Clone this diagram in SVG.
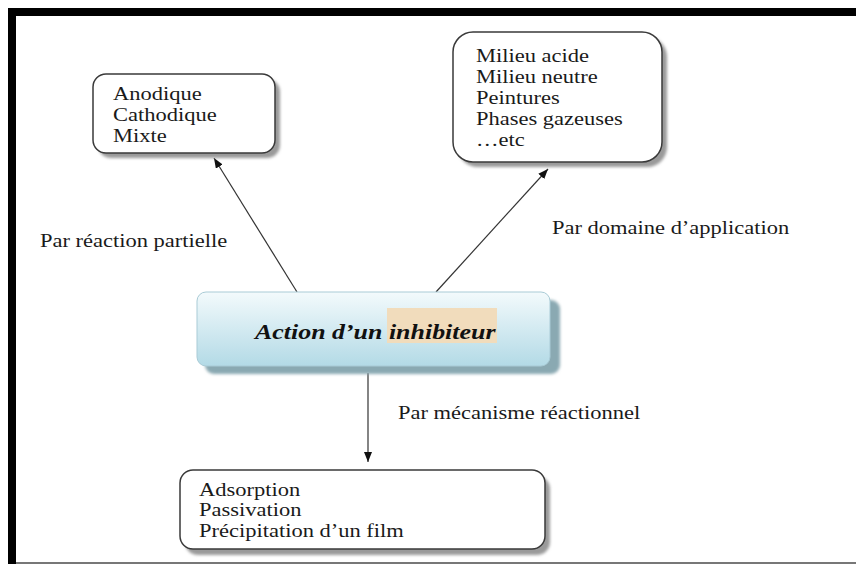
<svg xmlns="http://www.w3.org/2000/svg" width="856" height="564" viewBox="0 0 856 564">
<style>
.t{font-family:"Liberation Serif","Times New Roman",serif;font-size:18px;fill:#1a1a1a}
.title{font-family:"Liberation Serif","Times New Roman",serif;font-size:21px;font-weight:bold;font-style:italic;fill:#111}
.box{fill:#fff;stroke:#3a3a3a;stroke-width:1.5}
.sh{fill:#9a9a9a;filter:url(#blur)}
.conn{stroke:#333;stroke-width:1.2;fill:none;marker-end:url(#arr)}
</style>
<defs>
<filter id="blur" x="-10%" y="-10%" width="120%" height="130%"><feGaussianBlur stdDeviation="1.5"/></filter>
<linearGradient id="cg" x1="0" y1="0" x2="0" y2="1">
<stop offset="0" stop-color="#f3fafc"/>
<stop offset="1" stop-color="#b3dae6"/>
</linearGradient>
<marker id="arr" markerUnits="userSpaceOnUse" markerWidth="11" markerHeight="9" refX="10" refY="4" orient="auto">
<path d="M0,0 L10,4 L0,8 z" fill="#111"/>
</marker>
</defs>
<rect width="856" height="564" fill="#fff"/>
<g id="frame">
<rect x="8" y="8" width="848" height="8" fill="#000"/>
<rect x="8" y="8" width="8" height="556" fill="#000"/>
<rect x="16" y="562" width="840" height="2" fill="#777"/>
</g>
<g id="connectors">
<line class="conn" x1="297" y1="292" x2="214" y2="158"/>
<line class="conn" x1="436" y1="292" x2="548" y2="169"/>
<line class="conn" x1="368" y1="373" x2="368" y2="462"/>
</g>
<g id="node-partielle">
<rect class="sh" x="98" y="79" width="182" height="79" rx="13"/>
<rect class="box" x="93" y="74" width="182" height="79" rx="13"/>
<text class="t" transform="translate(113 100) scale(1.25 1)"><tspan x="0" y="0">Anodique</tspan><tspan x="0" y="21">Cathodique</tspan><tspan x="0" y="42">Mixte</tspan></text>
</g>
<g id="node-domaine">
<rect class="sh" x="458" y="37" width="209" height="130" rx="20"/>
<rect class="box" x="453" y="32" width="209" height="130" rx="20"/>
<text class="t" transform="translate(476 62) scale(1.25 1)"><tspan x="0" y="0">Milieu acide</tspan><tspan x="0" y="21">Milieu neutre</tspan><tspan x="0" y="42">Peintures</tspan><tspan x="0" y="63">Phases gazeuses</tspan><tspan x="0" y="84">…etc</tspan></text>
</g>
<g id="node-action">
<rect x="205" y="300" width="355" height="74" rx="9" fill="#8aa9b2" filter="url(#blur)"/>
<rect x="197" y="292" width="353" height="74" rx="9" fill="url(#cg)" stroke="#a9cbd6" stroke-width="1"/>
<rect x="387" y="308" width="110" height="35" fill="#f1dcbc"/>
<text class="title" transform="translate(255 339) scale(1.235 1)">Action d’un inhibiteur</text>
</g>
<g id="node-mecanisme">
<rect class="sh" x="185" y="476" width="365" height="79" rx="13"/>
<rect class="box" x="180" y="470" width="365" height="79" rx="13"/>
<text class="t" transform="translate(199 496) scale(1.25 1)"><tspan x="0" y="0">Adsorption</tspan><tspan x="0" y="20.5">Passivation</tspan><tspan x="0" y="41">Précipitation d’un film</tspan></text>
</g>
<g id="labels">
<text class="t" transform="translate(40 247) scale(1.25 1)">Par réaction partielle</text>
<text class="t" transform="translate(552 234) scale(1.25 1)">Par domaine d’application</text>
<text class="t" transform="translate(398 419) scale(1.25 1)">Par mécanisme réactionnel</text>
</g>
</svg>
